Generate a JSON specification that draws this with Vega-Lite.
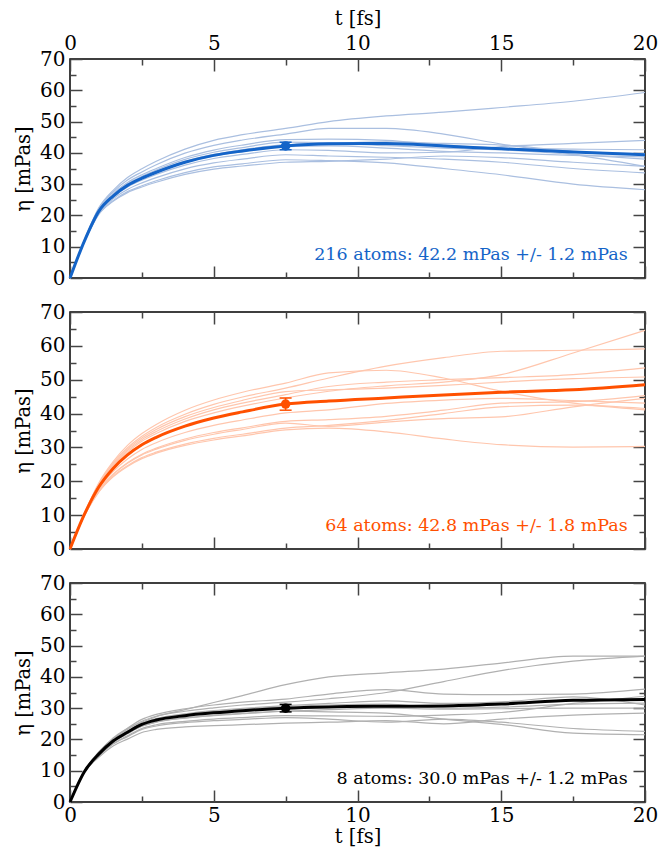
{
  "$schema": "https://vega.github.io/schema/vega-lite/v6.json",
  "padding": {"left": 12, "top": 7, "right": 1, "bottom": 8},
  "config": {
    "font": "DejaVu Serif",
    "view": {"stroke": "black", "strokeWidth": 1.5},
    "text": {"font": "DejaVu Serif"},
    "axis": {"domain": false, "grid": false, "ticks": true, "tickColor": "#444", "tickWidth": 1.5,
      "labelFont": "DejaVu Serif", "labelFontSize": 20, "labelColor": "black", "labelFlush": false, "labelOverlap": false,
      "titleFont": "DejaVu Serif", "titleFontSize": 19.5, "titleFontWeight": "normal", "titleColor": "black", "titlePadding": 6}
  },
  "datasets": {
    "curves": [
      {"p":"a","t":0,"m":0,"r1":0,"r2":0,"r3":0,"r4":0,"r5":0,"r6":0,"r7":0,"r8":0,"r9":0,"r10":0},
      {"p":"a","t":0.5,"m":11.8,"r1":12.1,"r2":12.0,"r3":11.9,"r4":11.9,"r5":11.8,"r6":11.7,"r7":11.7,"r8":11.6,"r9":11.5,"r10":11.8},
      {"p":"a","t":1,"m":21.3,"r1":22.4,"r2":22.1,"r3":21.7,"r4":21.5,"r5":21.3,"r6":21.1,"r7":20.7,"r8":20.4,"r9":20.3,"r10":21.4},
      {"p":"a","t":1.5,"m":26.2,"r1":28.0,"r2":27.5,"r3":26.9,"r4":26.6,"r5":26.1,"r6":25.8,"r7":25.3,"r8":24.7,"r9":24.5,"r10":26.3},
      {"p":"a","t":2,"m":29.6,"r1":32.1,"r2":31.3,"r3":30.5,"r4":30.1,"r5":29.5,"r6":29.1,"r7":28.3,"r8":27.6,"r9":27.3,"r10":29.8},
      {"p":"a","t":2.5,"m":31.9,"r1":34.9,"r2":33.9,"r3":33.0,"r4":32.5,"r5":31.8,"r6":31.3,"r7":30.4,"r8":29.5,"r9":29.1,"r10":32.1},
      {"p":"a","t":3,"m":33.8,"r1":37.3,"r2":36.2,"r3":35.0,"r4":34.5,"r5":33.7,"r6":33.1,"r7":32.1,"r8":31.1,"r9":30.6,"r10":34.0},
      {"p":"a","t":4,"m":37.0,"r1":41.2,"r2":39.9,"r3":38.5,"r4":37.9,"r5":36.9,"r6":36.1,"r7":34.9,"r8":33.7,"r9":33.1,"r10":37.3},
      {"p":"a","t":5,"m":39.2,"r1":44.0,"r2":42.4,"r3":40.9,"r4":40.2,"r5":39.0,"r6":38.2,"r7":36.8,"r8":35.5,"r9":34.8,"r10":39.5},
      {"p":"a","t":6,"m":40.6,"r1":45.8,"r2":44.1,"r3":42.5,"r4":41.7,"r5":40.4,"r6":39.5,"r7":38.0,"r8":36.5,"r9":35.8,"r10":41.0},
      {"p":"a","t":7.5,"m":42.2,"r1":47.8,"r2":46.0,"r3":44.2,"r4":43.4,"r5":42.0,"r6":41.0,"r7":39.4,"r8":37.8,"r9":37.0,"r10":42.6},
      {"p":"a","t":9,"m":42.9,"r1":50.0,"r2":47.8,"r3":44.4,"r4":43.2,"r5":42.2,"r6":40.8,"r7":39.0,"r8":37.5,"r9":37.3,"r10":43.0},
      {"p":"a","t":11,"m":43.0,"r1":51.8,"r2":47.8,"r3":44.0,"r4":42.3,"r5":41.5,"r6":40.0,"r7":38.6,"r8":36.8,"r9":38.0,"r10":43.5},
      {"p":"a","t":13,"m":42.2,"r1":53.0,"r2":46.0,"r3":42.5,"r4":41.5,"r5":40.5,"r6":40.2,"r7":38.0,"r8":35.0,"r9":39.0,"r10":43.0},
      {"p":"a","t":15,"m":41.3,"r1":54.5,"r2":42.8,"r3":41.5,"r4":41.0,"r5":40.0,"r6":42.0,"r7":37.0,"r8":33.0,"r9":38.5,"r10":42.5},
      {"p":"a","t":17.5,"m":40.3,"r1":56.5,"r2":39.5,"r3":41.2,"r4":39.5,"r5":39.2,"r6":43.0,"r7":35.0,"r8":30.0,"r9":37.0,"r10":40.5},
      {"p":"a","t":20,"m":39.4,"r1":59.3,"r2":35.7,"r3":41.0,"r4":38.0,"r5":38.7,"r6":44.0,"r7":33.6,"r8":28.2,"r9":35.7,"r10":39.8},
      {"p":"b","t":0,"m":0,"r1":0,"r2":0,"r3":0,"r4":0,"r5":0,"r6":0,"r7":0,"r8":0,"r9":0,"r10":0},
      {"p":"b","t":0.5,"m":10.2,"r1":10.4,"r2":10.5,"r3":10.3,"r4":10.3,"r5":10.4,"r6":10.1,"r7":9.9,"r8":9.9,"r9":9.8,"r10":9.8},
      {"p":"b","t":1,"m":18.3,"r1":19.2,"r2":19.5,"r3":18.7,"r4":18.9,"r5":19.0,"r6":17.8,"r7":17.3,"r8":17.2,"r9":16.8,"r10":16.9},
      {"p":"b","t":1.5,"m":23.8,"r1":25.4,"r2":25.8,"r3":24.4,"r4":24.7,"r5":25.0,"r6":22.9,"r7":22.1,"r8":22.0,"r9":21.3,"r10":21.5},
      {"p":"b","t":2,"m":27.8,"r1":29.9,"r2":30.6,"r3":28.6,"r4":29.1,"r5":29.5,"r6":26.6,"r7":25.5,"r8":25.3,"r9":24.4,"r10":24.6},
      {"p":"b","t":2.5,"m":30.8,"r1":33.3,"r2":34.1,"r3":31.8,"r4":32.3,"r5":32.8,"r6":29.4,"r7":28.0,"r8":27.8,"r9":26.7,"r10":27.0},
      {"p":"b","t":3,"m":33.0,"r1":35.9,"r2":36.8,"r3":34.1,"r4":34.7,"r5":35.3,"r6":31.4,"r7":29.8,"r8":29.5,"r9":28.3,"r10":28.6},
      {"p":"b","t":4,"m":36.3,"r1":39.8,"r2":41.0,"r3":37.7,"r4":38.4,"r5":39.1,"r6":34.4,"r7":32.5,"r8":32.1,"r9":30.6,"r10":31.0},
      {"p":"b","t":5,"m":38.7,"r1":42.7,"r2":44.0,"r3":40.2,"r4":41.1,"r5":41.8,"r6":36.5,"r7":34.4,"r8":33.9,"r9":32.2,"r10":32.7},
      {"p":"b","t":6,"m":40.5,"r1":44.9,"r2":46.3,"r3":42.2,"r4":43.1,"r5":43.9,"r6":38.1,"r7":35.8,"r8":35.3,"r9":33.4,"r10":33.9},
      {"p":"b","t":7.5,"m":42.8,"r1":47.5,"r2":49.0,"r3":44.6,"r4":45.6,"r5":46.5,"r6":40.2,"r7":37.7,"r8":37.2,"r9":35.2,"r10":35.7},
      {"p":"b","t":9,"m":43.7,"r1":50.5,"r2":52.0,"r3":46.6,"r4":48.0,"r5":47.0,"r6":41.1,"r7":38.2,"r8":36.2,"r9":35.7,"r10":36.5},
      {"p":"b","t":11,"m":44.6,"r1":54.0,"r2":52.8,"r3":48.2,"r4":49.3,"r5":47.5,"r6":43.0,"r7":39.2,"r8":37.5,"r9":34.6,"r10":38.0},
      {"p":"b","t":13,"m":45.5,"r1":56.5,"r2":50.5,"r3":49.3,"r4":50.0,"r5":48.3,"r6":44.0,"r7":41.0,"r8":38.5,"r9":32.5,"r10":40.0},
      {"p":"b","t":15,"m":46.3,"r1":58.4,"r2":46.6,"r3":51.5,"r4":50.6,"r5":49.3,"r6":44.5,"r7":43.1,"r8":39.0,"r9":30.8,"r10":42.0},
      {"p":"b","t":17.5,"m":47.0,"r1":58.7,"r2":43.1,"r3":57.9,"r4":51.5,"r5":50.3,"r6":43.8,"r7":43.5,"r8":42.0,"r9":30.1,"r10":42.5},
      {"p":"b","t":20,"m":48.5,"r1":59.1,"r2":41.1,"r3":64.6,"r4":53.5,"r5":50.8,"r6":43.1,"r7":45.3,"r8":44.5,"r9":30.3,"r10":41.5},
      {"p":"c","t":0,"m":0,"r1":0,"r2":0,"r3":0,"r4":0,"r5":0,"r6":0,"r7":0,"r8":0,"r9":0,"r10":0},
      {"p":"c","t":0.5,"m":9.7,"r1":9.9,"r2":9.8,"r3":9.8,"r4":9.7,"r5":9.6,"r6":9.5,"r7":9.6,"r8":9.7,"r9":9.6,"r10":9.7},
      {"p":"c","t":1,"m":15.3,"r1":16.0,"r2":15.7,"r3":15.9,"r4":15.5,"r5":14.8,"r6":14.3,"r7":14.7,"r8":15.1,"r9":15.0,"r10":15.4},
      {"p":"c","t":1.5,"m":19.5,"r1":20.2,"r2":20.1,"r3":20.5,"r4":19.8,"r5":18.7,"r6":17.9,"r7":18.5,"r8":19.2,"r9":19.1,"r10":19.7},
      {"p":"c","t":2,"m":22.3,"r1":23.5,"r2":23.2,"r3":23.6,"r4":22.7,"r5":21.2,"r6":20.1,"r7":20.9,"r8":21.9,"r9":21.8,"r10":22.5},
      {"p":"c","t":2.5,"m":24.8,"r1":25.5,"r2":25.8,"r3":26.4,"r4":25.2,"r5":23.5,"r6":22.2,"r7":23.2,"r8":24.3,"r9":24.2,"r10":25.1},
      {"p":"c","t":3,"m":26.2,"r1":27.3,"r2":27.4,"r3":28.0,"r4":26.7,"r5":24.7,"r6":23.2,"r7":24.3,"r8":25.6,"r9":25.5,"r10":26.5},
      {"p":"c","t":4,"m":27.6,"r1":29.5,"r2":29.0,"r3":29.8,"r4":28.2,"r5":25.8,"r6":24.0,"r7":25.4,"r8":26.9,"r9":26.8,"r10":28.0},
      {"p":"c","t":5,"m":28.5,"r1":31.8,"r2":30.1,"r3":31.0,"r4":29.2,"r5":26.5,"r6":24.4,"r7":26.0,"r8":27.7,"r9":27.6,"r10":28.9},
      {"p":"c","t":6,"m":29.2,"r1":34.0,"r2":31.0,"r3":31.9,"r4":29.9,"r5":27.0,"r6":24.7,"r7":26.4,"r8":28.3,"r9":28.2,"r10":29.7},
      {"p":"c","t":7.5,"m":30.0,"r1":37.5,"r2":31.9,"r3":32.9,"r4":30.8,"r5":27.6,"r6":25.2,"r7":27.0,"r8":29.0,"r9":29.0,"r10":30.5},
      {"p":"c","t":9,"m":30.4,"r1":40.0,"r2":33.0,"r3":34.5,"r4":31.5,"r5":27.5,"r6":25.5,"r7":26.5,"r8":28.8,"r9":29.5,"r10":31.0},
      {"p":"c","t":11,"m":30.6,"r1":41.3,"r2":35.0,"r3":35.9,"r4":32.3,"r5":27.4,"r6":26.0,"r7":25.5,"r8":28.4,"r9":30.0,"r10":31.3},
      {"p":"c","t":13,"m":30.7,"r1":42.5,"r2":38.5,"r3":34.5,"r4":31.5,"r5":27.8,"r6":25.0,"r7":26.5,"r8":26.5,"r9":29.7,"r10":30.0},
      {"p":"c","t":15,"m":31.3,"r1":44.4,"r2":42.0,"r3":34.3,"r4":32.0,"r5":28.6,"r6":26.5,"r7":25.5,"r8":24.8,"r9":29.8,"r10":30.3},
      {"p":"c","t":17.5,"m":32.5,"r1":46.6,"r2":45.0,"r3":34.5,"r4":33.6,"r5":31.5,"r6":27.8,"r7":23.5,"r8":22.0,"r9":30.0,"r10":31.3},
      {"p":"c","t":20,"m":32.8,"r1":46.6,"r2":46.6,"r3":36.1,"r4":31.0,"r5":33.8,"r6":28.4,"r7":22.6,"r8":21.5,"r9":30.0,"r10":31.6}
    ],
    "stats": [
      {"p":"a","t":7.5,"v":42.2,"lo":41.0,"hi":43.4,"label":"216 atoms: 42.2 mPas +/- 1.2 mPas"},
      {"p":"b","t":7.5,"v":42.8,"lo":41.0,"hi":44.6,"label":"64 atoms: 42.8 mPas +/- 1.8 mPas"},
      {"p":"c","t":7.5,"v":30.0,"lo":28.8,"hi":31.2,"label":"8 atoms: 30.0 mPas  +/- 1.2 mPas"}
    ]
  },
  "spacing": 34,
  "bounds": "flush",
  "vconcat": [
    {
      "width": 575, "height": 219,
      "resolve": {"axis": {"x": "independent", "y": "independent"}},
      "layer": [
        {"data": {"name": "curves"}, "transform": [{"filter": "datum.p === 'a'"}, {"fold": ["r1","r2","r3","r4","r5","r6","r7","r8","r9","r10"], "as": ["run","v"]}],
         "mark": {"type": "line", "interpolate": "monotone", "color": "#aabfe0", "strokeWidth": 1.2},
         "encoding": {
           "x": {"field": "t", "type": "quantitative", "scale": {"domain": [0,20], "nice": false}, "axis": {"orient": "bottom", "values": [0,5,10,15,20], "tickSize": -12, "labels": false, "title": null}},
           "y": {"field": "v", "type": "quantitative", "scale": {"domain": [0,70], "nice": false}, "axis": {"orient": "left", "values": [0,10,20,30,40,50,60,70], "tickSize": -12, "labelPadding": 17, "title": "η [mPas]"}},
           "detail": {"field": "run", "type": "nominal"}}},
        {"data": {"name": "curves"}, "transform": [{"filter": "datum.p === 'a'"}],
         "mark": {"type": "line", "interpolate": "monotone", "color": "#1464c8", "strokeWidth": 3},
         "encoding": {
           "x": {"field": "t", "type": "quantitative", "axis": {"orient": "top", "values": [0,5,10,15,20], "tickSize": -12, "labelPadding": 18, "title": "t [fs]", "titlePadding": 5}},
           "y": {"field": "m", "type": "quantitative", "axis": {"orient": "right", "values": [0,10,20,30,40,50,60,70], "tickSize": -12, "labels": false, "title": null}}}},
        {"data": {"name": "stats"}, "transform": [{"filter": "datum.p === 'a'"}],
         "mark": {"type": "rule", "color": "#1464c8", "strokeWidth": 1.5},
         "encoding": {
           "x": {"field": "t", "type": "quantitative", "axis": {"orient": "bottom", "values": [2.5,7.5,12.5,17.5], "tickSize": -6, "labels": false, "title": null}},
           "y": {"field": "lo", "type": "quantitative", "axis": {"orient": "left", "values": [5,15,25,35,45,55,65], "tickSize": -6, "labels": false, "title": null}},
           "y2": {"field": "hi"}}},
        {"data": {"name": "stats"}, "transform": [{"filter": "datum.p === 'a'"}],
         "mark": {"type": "tick", "orient": "horizontal", "size": 12, "thickness": 1.5, "color": "#1464c8", "opacity": 1},
         "encoding": {
           "x": {"field": "t", "type": "quantitative", "axis": {"orient": "top", "values": [2.5,7.5,12.5,17.5], "tickSize": -6, "labels": false, "title": null}},
           "y": {"field": "lo", "type": "quantitative", "axis": {"orient": "right", "values": [5,15,25,35,45,55,65], "tickSize": -6, "labels": false, "title": null}}}},
        {"data": {"name": "stats"}, "transform": [{"filter": "datum.p === 'a'"}],
         "mark": {"type": "tick", "orient": "horizontal", "size": 12, "thickness": 1.5, "color": "#1464c8", "opacity": 1},
         "encoding": {
           "x": {"field": "t", "type": "quantitative", "axis": null},
           "y": {"field": "hi", "type": "quantitative", "axis": null}}},
        {"data": {"name": "stats"}, "transform": [{"filter": "datum.p === 'a'"}],
         "mark": {"type": "circle", "size": 90, "color": "#1464c8", "opacity": 1},
         "encoding": {
           "x": {"field": "t", "type": "quantitative", "axis": null},
           "y": {"field": "v", "type": "quantitative", "axis": null}}},
        {"data": {"name": "stats"}, "transform": [{"filter": "datum.p === 'a'"}],
         "mark": {"type": "text", "align": "right", "baseline": "alphabetic", "fontSize": 17.5, "font": "DejaVu Serif", "color": "#1464c8"},
         "encoding": {
           "x": {"datum": 19.4, "type": "quantitative", "axis": null},
           "y": {"datum": 5.6, "type": "quantitative", "axis": null},
           "text": {"field": "label"}}}
      ]
    },
    {
      "width": 575, "height": 237,
      "resolve": {"axis": {"x": "independent", "y": "independent"}},
      "layer": [
        {"data": {"name": "curves"}, "transform": [{"filter": "datum.p === 'b'"}, {"fold": ["r1","r2","r3","r4","r5","r6","r7","r8","r9","r10"], "as": ["run","v"]}],
         "mark": {"type": "line", "interpolate": "monotone", "color": "#ffc6ad", "strokeWidth": 1.2},
         "encoding": {
           "x": {"field": "t", "type": "quantitative", "scale": {"domain": [0,20], "nice": false}, "axis": {"orient": "bottom", "values": [0,5,10,15,20], "tickSize": -12, "labels": false, "title": null}},
           "y": {"field": "v", "type": "quantitative", "scale": {"domain": [0,70], "nice": false}, "axis": {"orient": "left", "values": [0,10,20,30,40,50,60,70], "tickSize": -12, "labelPadding": 17, "title": "η [mPas]"}},
           "detail": {"field": "run", "type": "nominal"}}},
        {"data": {"name": "curves"}, "transform": [{"filter": "datum.p === 'b'"}],
         "mark": {"type": "line", "interpolate": "monotone", "color": "#ff5000", "strokeWidth": 3},
         "encoding": {
           "x": {"field": "t", "type": "quantitative", "axis": {"orient": "top", "values": [0,5,10,15,20], "tickSize": -12, "labels": false, "title": null}},
           "y": {"field": "m", "type": "quantitative", "axis": {"orient": "right", "values": [0,10,20,30,40,50,60,70], "tickSize": -12, "labels": false, "title": null}}}},
        {"data": {"name": "stats"}, "transform": [{"filter": "datum.p === 'b'"}],
         "mark": {"type": "rule", "color": "#ff5000", "strokeWidth": 1.5},
         "encoding": {
           "x": {"field": "t", "type": "quantitative", "axis": {"orient": "bottom", "values": [2.5,7.5,12.5,17.5], "tickSize": -6, "labels": false, "title": null}},
           "y": {"field": "lo", "type": "quantitative", "axis": {"orient": "left", "values": [5,15,25,35,45,55,65], "tickSize": -6, "labels": false, "title": null}},
           "y2": {"field": "hi"}}},
        {"data": {"name": "stats"}, "transform": [{"filter": "datum.p === 'b'"}],
         "mark": {"type": "tick", "orient": "horizontal", "size": 12, "thickness": 1.5, "color": "#ff5000", "opacity": 1},
         "encoding": {
           "x": {"field": "t", "type": "quantitative", "axis": {"orient": "top", "values": [2.5,7.5,12.5,17.5], "tickSize": -6, "labels": false, "title": null}},
           "y": {"field": "lo", "type": "quantitative", "axis": {"orient": "right", "values": [5,15,25,35,45,55,65], "tickSize": -6, "labels": false, "title": null}}}},
        {"data": {"name": "stats"}, "transform": [{"filter": "datum.p === 'b'"}],
         "mark": {"type": "tick", "orient": "horizontal", "size": 12, "thickness": 1.5, "color": "#ff5000", "opacity": 1},
         "encoding": {
           "x": {"field": "t", "type": "quantitative", "axis": null},
           "y": {"field": "hi", "type": "quantitative", "axis": null}}},
        {"data": {"name": "stats"}, "transform": [{"filter": "datum.p === 'b'"}],
         "mark": {"type": "circle", "size": 90, "color": "#ff5000", "opacity": 1},
         "encoding": {
           "x": {"field": "t", "type": "quantitative", "axis": null},
           "y": {"field": "v", "type": "quantitative", "axis": null}}},
        {"data": {"name": "stats"}, "transform": [{"filter": "datum.p === 'b'"}],
         "mark": {"type": "text", "align": "right", "baseline": "alphabetic", "fontSize": 17.5, "font": "DejaVu Serif", "color": "#ff5000"},
         "encoding": {
           "x": {"datum": 19.4, "type": "quantitative", "axis": null},
           "y": {"datum": 5.2, "type": "quantitative", "axis": null},
           "text": {"field": "label"}}}
      ]
    },
    {
      "width": 575, "height": 219,
      "resolve": {"axis": {"x": "independent", "y": "independent"}},
      "layer": [
        {"data": {"name": "curves"}, "transform": [{"filter": "datum.p === 'c'"}, {"fold": ["r1","r2","r3","r4","r5","r6","r7","r8","r9","r10"], "as": ["run","v"]}],
         "mark": {"type": "line", "interpolate": "monotone", "color": "#b0b0b0", "strokeWidth": 1.2},
         "encoding": {
           "x": {"field": "t", "type": "quantitative", "scale": {"domain": [0,20], "nice": false}, "axis": {"orient": "bottom", "values": [0,5,10,15,20], "tickSize": -12, "labelPadding": 15, "title": "t [fs]", "titlePadding": 2}},
           "y": {"field": "v", "type": "quantitative", "scale": {"domain": [0,70], "nice": false}, "axis": {"orient": "left", "values": [0,10,20,30,40,50,60,70], "tickSize": -12, "labelPadding": 17, "title": "η [mPas]"}},
           "detail": {"field": "run", "type": "nominal"}}},
        {"data": {"name": "curves"}, "transform": [{"filter": "datum.p === 'c'"}],
         "mark": {"type": "line", "interpolate": "monotone", "color": "#000000", "strokeWidth": 3},
         "encoding": {
           "x": {"field": "t", "type": "quantitative", "axis": {"orient": "top", "values": [0,5,10,15,20], "tickSize": -12, "labels": false, "title": null}},
           "y": {"field": "m", "type": "quantitative", "axis": {"orient": "right", "values": [0,10,20,30,40,50,60,70], "tickSize": -12, "labels": false, "title": null}}}},
        {"data": {"name": "stats"}, "transform": [{"filter": "datum.p === 'c'"}],
         "mark": {"type": "rule", "color": "#000000", "strokeWidth": 1.5},
         "encoding": {
           "x": {"field": "t", "type": "quantitative", "axis": {"orient": "bottom", "values": [2.5,7.5,12.5,17.5], "tickSize": -6, "labels": false, "title": null}},
           "y": {"field": "lo", "type": "quantitative", "axis": {"orient": "left", "values": [5,15,25,35,45,55,65], "tickSize": -6, "labels": false, "title": null}},
           "y2": {"field": "hi"}}},
        {"data": {"name": "stats"}, "transform": [{"filter": "datum.p === 'c'"}],
         "mark": {"type": "tick", "orient": "horizontal", "size": 12, "thickness": 1.5, "color": "#000000", "opacity": 1},
         "encoding": {
           "x": {"field": "t", "type": "quantitative", "axis": {"orient": "top", "values": [2.5,7.5,12.5,17.5], "tickSize": -6, "labels": false, "title": null}},
           "y": {"field": "lo", "type": "quantitative", "axis": {"orient": "right", "values": [5,15,25,35,45,55,65], "tickSize": -6, "labels": false, "title": null}}}},
        {"data": {"name": "stats"}, "transform": [{"filter": "datum.p === 'c'"}],
         "mark": {"type": "tick", "orient": "horizontal", "size": 12, "thickness": 1.5, "color": "#000000", "opacity": 1},
         "encoding": {
           "x": {"field": "t", "type": "quantitative", "axis": null},
           "y": {"field": "hi", "type": "quantitative", "axis": null}}},
        {"data": {"name": "stats"}, "transform": [{"filter": "datum.p === 'c'"}],
         "mark": {"type": "circle", "size": 90, "color": "#000000", "opacity": 1},
         "encoding": {
           "x": {"field": "t", "type": "quantitative", "axis": null},
           "y": {"field": "v", "type": "quantitative", "axis": null}}},
        {"data": {"name": "stats"}, "transform": [{"filter": "datum.p === 'c'"}],
         "mark": {"type": "text", "align": "right", "baseline": "alphabetic", "fontSize": 17.5, "font": "DejaVu Serif", "color": "#000000"},
         "encoding": {
           "x": {"datum": 19.4, "type": "quantitative", "axis": null},
           "y": {"datum": 5.6, "type": "quantitative", "axis": null},
           "text": {"field": "label"}}}
      ]
    }
  ]
}
